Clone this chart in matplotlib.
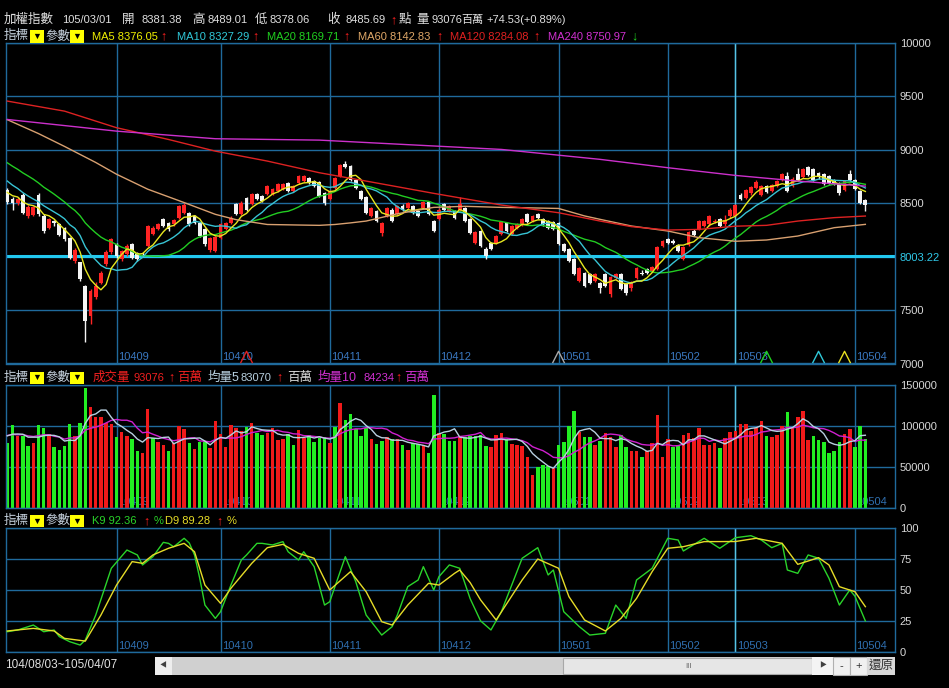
import matplotlib
matplotlib.use('Agg')
import matplotlib.pyplot as plt
import matplotlib.transforms as mtransforms
from matplotlib.patches import Rectangle
import numpy as np

W, H = 949, 688

# ---- price data (TAIEX daily, 104/08/03 ~ 105/04/07) ----
opens = [8620, 8540, 8497, 8580, 8380, 8390, 8580, 8380, 8270, 8330,
         8300, 8270, 8175, 7960, 7945, 7725, 7445, 7620, 7755, 7930,
         8040, 8115, 7975, 8020, 8115, 8035, 8030, 8100, 8210, 8255,
         8350, 8315, 8300, 8365, 8410, 8410, 8380, 8315, 8255, 8060,
         8050, 8175, 8255, 8315, 8490, 8395, 8550, 8488, 8582, 8565,
         8582, 8582, 8610, 8630, 8690, 8610, 8690, 8705, 8735, 8705,
         8700, 8590, 8535, 8645, 8755, 8870, 8850, 8720, 8610, 8560,
         8380, 8425, 8225, 8380, 8440, 8395, 8475, 8455, 8470, 8425,
         8455, 8510, 8330, 8350, 8490, 8425, 8425, 8440, 8450, 8350,
         8130, 8240, 8075, 8130, 8125, 8210, 8315, 8210, 8270, 8300,
         8395, 8330, 8395, 8350, 8330, 8320, 8315, 8115, 8070, 7975,
         7775, 7850, 7835, 7770, 7755, 7835, 7650, 7800, 7835, 7740,
         7710, 7800, 7850, 7880, 7865, 7880, 8100, 8160, 8145, 8110,
         7975, 8105, 8240, 8255, 8290, 8300, 8320, 8355, 8300, 8375,
         8381.38, 8580, 8550, 8590, 8640, 8580, 8660, 8610, 8660, 8720,
         8750, 8660, 8770, 8745, 8840, 8815, 8785, 8770, 8750, 8720,
         8690, 8620, 8775, 8720, 8610, 8530]
closes = [8510, 8505, 8540, 8410, 8465, 8460, 8395, 8240, 8350, 8310,
          8205, 8160, 7990, 8065, 7790, 7400, 7680, 7725, 7850, 8040,
          8160, 8005, 8050, 8100, 7990, 7975, 8020, 8285, 8270, 8300,
          8285, 8255, 8345, 8470, 8485, 8300, 8315, 8190, 8115, 8170,
          8180, 8300, 8315, 8365, 8395, 8505, 8440, 8582, 8535, 8520,
          8660, 8630, 8675, 8675, 8610, 8660, 8750, 8750, 8690, 8660,
          8565, 8505, 8610, 8735, 8860, 8840, 8720, 8645, 8535, 8410,
          8455, 8330, 8315, 8455, 8330, 8470, 8440, 8500, 8410, 8380,
          8510, 8395, 8240, 8440, 8440, 8470, 8365, 8490, 8330, 8225,
          8230, 8100, 8005, 8075, 8190, 8325, 8240, 8285, 8300, 8355,
          8320, 8375, 8365, 8300, 8270, 8260, 8115, 8050, 7960, 7835,
          7895, 7725, 7755, 7835, 7710, 7725, 7805, 7840, 7695, 7660,
          7765, 7895, 7835, 7850, 7905, 8085, 8145, 8130, 8125, 8050,
          8085, 8230, 8200, 8330, 8330, 8375, 8335, 8285, 8340, 8440,
          8485.69, 8540, 8625, 8650, 8700, 8660, 8600, 8670, 8705, 8770,
          8610, 8730, 8720, 8815, 8760, 8720, 8740, 8675, 8690, 8675,
          8590, 8705, 8720, 8630, 8505, 8485]
highs = [8640, 8560, 8560, 8590, 8480, 8470, 8590, 8395, 8365, 8345,
         8315, 8280, 8180, 8080, 7950, 7730, 7700, 7760, 7865, 8060,
         8175, 8130, 8065, 8115, 8125, 8045, 8045, 8295, 8285, 8310,
         8360, 8325, 8355, 8480, 8500, 8420, 8390, 8325, 8265, 8180,
         8190, 8310, 8325, 8375, 8500, 8515, 8560, 8595, 8595, 8575,
         8670, 8640, 8685, 8690, 8700, 8670, 8760, 8765, 8745, 8715,
         8710, 8600, 8620, 8745, 8870, 8890, 8860, 8730, 8620, 8570,
         8465, 8435, 8325, 8465, 8450, 8480, 8490, 8510, 8480, 8435,
         8520, 8520, 8340, 8450, 8500, 8480, 8435, 8560, 8460, 8360,
         8240, 8250, 8085, 8140, 8200, 8335, 8325, 8295, 8310, 8365,
         8405, 8385, 8405, 8360, 8340, 8330, 8325, 8125, 8080, 7985,
         7905, 7860, 7845, 7845, 7765, 7845, 7815, 7850, 7845, 7750,
         7775, 7905, 7870, 7890, 7915, 8095, 8155, 8175, 8160, 8120,
         8095, 8240, 8255, 8340, 8340, 8385, 8355, 8365, 8385, 8450,
         8489.01, 8590, 8635, 8660, 8720, 8670, 8670, 8680, 8715, 8780,
         8790, 8740, 8830, 8825, 8850, 8825, 8795, 8780, 8760, 8730,
         8700, 8715, 8810, 8730, 8620, 8540]
lows = [8490, 8440, 8480, 8400, 8360, 8375, 8380, 8225, 8255, 8290,
        8190, 8150, 7975, 7940, 7775, 7205, 7365, 7600, 7740, 7915,
        8025, 7990, 7960, 8005, 7975, 7960, 8005, 8090, 8200, 8245,
        8275, 8240, 8290, 8355, 8400, 8290, 8305, 8180, 8100, 8045,
        8040, 8165, 8245, 8305, 8385, 8385, 8430, 8480, 8525, 8510,
        8575, 8575, 8600, 8620, 8600, 8600, 8680, 8695, 8680, 8650,
        8555, 8480, 8525, 8635, 8745, 8830, 8710, 8635, 8525, 8400,
        8370, 8320, 8195, 8370, 8320, 8385, 8430, 8445, 8400, 8370,
        8445, 8385, 8230, 8340, 8430, 8415, 8355, 8430, 8320, 8215,
        8115, 8090, 7975, 8065, 8115, 8200, 8230, 8200, 8260, 8290,
        8310, 8320, 8355, 8290, 8260, 8250, 8105, 8040, 7950, 7825,
        7765, 7715, 7745, 7760, 7660, 7715, 7620, 7790, 7685, 7640,
        7680, 7790, 7825, 7840, 7855, 7870, 8090, 8120, 8115, 8040,
        7965, 8095, 8190, 8245, 8280, 8290, 8310, 8275, 8290, 8365,
        8378.06, 8530, 8540, 8580, 8630, 8570, 8590, 8600, 8650, 8710,
        8600, 8650, 8710, 8735, 8750, 8710, 8730, 8665, 8680, 8665,
        8580, 8610, 8710, 8620, 8495, 8425]
# closes before 104/08/03, only needed for the short moving averages
prior_closes = [9150, 9120, 9080, 9040, 9060, 9090, 9030, 8990, 8980, 8940,
                8890, 8850, 8800, 8780, 8740, 8660, 8600, 8640, 8590]

# long moving averages (index, value)
ma60_idx = [0, 6, 11, 17, 21, 27, 34, 40, 44, 50, 56, 60, 63, 66, 69, 75, 82, 88,
            95, 101, 106, 111, 114, 120, 127, 133, 140, 146, 152, 159, 165]
ma60_val = [9280, 9150, 9030, 8880, 8770, 8630, 8505, 8395, 8345, 8300, 8295, 8292,
            8300, 8315, 8332, 8400, 8460, 8470, 8460, 8455, 8450, 8380, 8348, 8286,
            8239, 8177, 8143, 8155, 8192, 8270, 8301]
ma120_idx = [0, 11, 21, 31, 40, 50, 60, 69, 82, 95, 106, 114, 120, 127, 133, 140,
             146, 152, 159, 165]
ma120_val = [9454, 9360, 9205, 9095, 8986, 8893, 8784, 8706, 8591, 8482, 8410, 8332,
             8280, 8248, 8254, 8284, 8292, 8332, 8364, 8379]
ma240_idx = [0, 21, 40, 60, 76, 95, 114, 127, 140, 152, 165]
ma240_val = [9282, 9173, 9102, 9089, 9049, 9002, 8909, 8831, 8759, 8706, 8659]

# ---- volume (百萬) ----
volumes = [79300, 100800, 87400, 87400, 75200, 79300, 100800, 96700, 89800, 74400,
           70300, 75200, 102000, 87400, 103700, 146300, 123200, 111000, 111000, 103700,
           102000, 85800, 92700, 87400, 83300, 69500, 67100, 119900, 84600, 80500,
           76400, 69500, 78500, 99600, 95500, 78500, 71100, 80500, 80500, 72400,
           106100, 89800, 74400, 100800, 96700, 93900, 98000, 103700, 90600, 88600,
           91500, 96700, 82500, 83300, 89800, 76400, 94700, 84600, 88600, 80500,
           84600, 85800, 79300, 98800, 128000, 106900, 114200, 95500, 87400, 96700,
           83300, 77600, 81700, 85800, 83300, 83300, 76400, 70300, 79300, 77600,
           76400, 67100, 137400, 90600, 89800, 81700, 81700, 86600, 85800, 87400,
           87400, 88600, 75200, 74400, 88600, 91500, 83300, 77600, 76400, 75200,
           61400, 39800, 50000, 52000, 50800, 48000, 76400, 80500, 99600, 118300,
           92700, 85800, 86600, 76400, 81700, 90600, 85800, 74400, 88600, 73600,
           69500, 69500, 61400, 69500, 79300, 113000, 61400, 83300, 73600, 76400,
           88600, 91500, 84600, 96700, 76400, 76400, 79300, 72400, 84600, 92700,
           93076, 102000, 102000, 93900, 96700, 106100, 87400, 86600, 88600, 99600,
           117100, 96700, 110200, 118300, 82500, 87400, 82500, 80500, 67100, 69500,
           80500, 89800, 95500, 73600, 99600, 83300]
vol_dir = ("ggrggrggrg" "gggrggrrrr" "rgrrggrrgr" "rgrrrgrggr" "rrrrrrgrgg"
           "rrrrggrrgg" "ggrgrggggg" "rggrgrgrgg" "rggrgggrgg" "gggrrrgrrr"
           "rrgggrgggg" "rggrgrrrgg" "rrgrrrrrgg" "rrrrrrrgrr" "rrrrrrgrrr"
           "grrrrggggg" "grrggg")
prior_volumes = [88000, 92000, 85000, 90000, 87000, 91000, 86000, 89000, 93000]

# ---- KD (9) ----
k_idx = [0, 2, 5, 7, 9, 10, 12, 14, 15, 17, 20, 23, 25, 26, 28, 30, 31, 32, 34, 35,
         36, 37, 38, 40, 41, 43, 45, 46, 48, 49, 51, 53, 54, 56, 57, 59, 61, 62, 65,
         67, 69, 72, 74, 75, 77, 79, 80, 82, 83, 85, 87, 89, 91, 93, 95, 97, 99, 102,
         104, 105, 107, 110, 112, 115, 117, 119, 121, 124, 126, 127, 129, 130, 134,
         137, 140, 143, 145, 147, 149, 150, 152, 154, 156, 158, 160, 162, 163, 165]
k_val = [16.2, 17.6, 21.6, 16.2, 17.6, 12.2, 8.1, 5.4, 9.5, 29.7, 67.6, 82.4, 78.4,
         70.3, 77.0, 88.6, 87.8, 85.0, 91.9, 88.0, 78.4, 59.5, 37.8, 27.0, 32.4, 54.0,
         74.3, 78.4, 87.8, 87.8, 86.5, 89.2, 81.0, 74.3, 81.0, 68.9, 37.8, 40.5, 77.0,
         56.8, 29.7, 13.5, 20.3, 29.7, 52.7, 58.1, 68.9, 50.0, 60.8, 70.3, 67.6, 43.0,
         25.0, 17.6, 32.4, 54.0, 75.7, 84.3, 62.2, 66.2, 32.4, 20.3, 13.5, 14.9, 37.8,
         27.0, 58.1, 67.6, 83.8, 91.9, 90.5, 81.6, 91.9, 83.8, 92.36, 94.0, 90.5, 84.3,
         87.8, 66.2, 63.5, 78.4, 75.7, 59.5, 37.8, 50.0, 45.0, 24.9]
d_idx = [0, 5, 9, 11, 15, 18, 21, 24, 26, 28, 31, 34, 36, 38, 41, 43, 47, 50, 53, 56,
         59, 62, 66, 69, 72, 74, 77, 81, 83, 86, 87, 89, 91, 94, 99, 102, 106, 108,
         111, 115, 118, 121, 124, 127, 130, 134, 140, 144, 149, 152, 156, 158, 160,
         163, 165]
d_val = [16.8, 18.9, 16.8, 10.8, 8.6, 29.7, 54.0, 73.0, 71.6, 78.4, 83.8, 87.8, 81.0,
         54.0, 39.2, 51.4, 71.6, 84.3, 87.0, 79.7, 75.7, 50.0, 64.9, 48.6, 24.3, 21.6,
         37.8, 55.4, 54.0, 63.5, 66.2, 56.0, 42.0, 25.7, 58.1, 75.1, 67.6, 44.6, 25.7,
         16.8, 27.0, 43.2, 64.9, 83.8, 85.1, 89.2, 89.28, 91.9, 87.8, 70.8, 76.2, 70.3,
         52.7, 48.6, 36.5]

month_idx = [21, 41, 62, 83, 106, 127, 140, 163]
month_labels = ['10409', '10410', '10411', '10412', '10501', '10502', '10503', '10504']
cursor_idx = 140
cursor_price = 8003.22
signal_idx = [46, 106, 146, 156, 161]
signal_colors = ['#e02020', '#a8a8a8', '#20d020', '#30c8d8', '#e8e020']

GRID = '#1f6a9c'
LABEL = '#d8d8d8'
MONTH = '#3a78c0'

plt.rcParams['font.family'] = ['Liberation Sans', 'Noto Sans CJK TC', 'DejaVu Sans']

fig = plt.figure(figsize=(W / 100, H / 100), dpi=100, facecolor='black')


def fx(x):
    return x / W


def fy(y):
    return 1 - y / H


def panel(top, bottom):
    left, right = 5.5, 895
    ax = fig.add_axes([fx(left), fy(bottom), (right - left) / W, (bottom - top) / H])
    ax.set_facecolor('black')
    ax.set_xlim(-0.35, 170.7)
    for s in ax.spines.values():
        s.set_color(GRID)
        s.set_linewidth(1)
    ax.set_xticks(month_idx)
    ax.tick_params(axis='x', bottom=False, labelbottom=False)
    ax.yaxis.tick_right()
    ax.tick_params(axis='y', length=0, pad=3.5, labelsize=8, labelcolor=LABEL)
    ax.grid(True, color=GRID, linewidth=1)
    ax.set_axisbelow(True)
    ax.axvline(cursor_idx, color='#56c4e4', linewidth=1, zorder=1.5)
    return ax


def month_text(ax, color, z=1):
    for i, lab in zip(month_idx, month_labels):
        ax.text(i + 0.3, 0.005, lab, transform=mtransforms.blended_transform_factory(ax.transData, ax.transAxes),
                color=color, fontsize=8, ha='left', va='bottom', zorder=z)


def sma(values, prior, n):
    full = np.array(list(prior) + list(values), dtype=float)
    out = np.convolve(full, np.ones(n) / n, mode='valid')
    return out[-len(values):]


x = np.arange(len(closes))
o = np.array(opens, dtype=float)
c = np.array(closes, dtype=float)
hi = np.array(highs, dtype=float)
lo = np.array(lows, dtype=float)

# ---------------- price panel ----------------
ax1 = panel(42.7, 363.5)
ax1.set_ylim(7000, 10000)
ax1.set_yticks([7000, 7500, 8000, 8500, 9000, 9500, 10000])
ax1.set_yticklabels(['7000', '7500', '8003.22', '8500', '9000', '9500', '10000'])
ax1.get_yticklabels()[2].set_color('#30c8e8')
ax1.axhline(cursor_price, color='#22c8f0', linewidth=2.2, zorder=1.6)

up = c >= o
ccol = np.where(up, '#ff2424', '#f4f4f4')
ax1.vlines(x, lo, hi, colors=ccol, linewidth=1, zorder=3)
body = np.maximum(np.abs(c - o), 8)
ax1.bar(x, body, bottom=np.minimum(o, c), width=0.72, color=ccol, linewidth=0, zorder=3)

ax1.plot(x, sma(closes, prior_closes, 20), color='#22cc22', lw=1, zorder=4)
ax1.plot(x, sma(closes, prior_closes, 10), color='#38c4d4', lw=1, zorder=4)
ax1.plot(x, sma(closes, prior_closes, 5), color='#e8e820', lw=1, zorder=4)
ax1.plot(ma60_idx, ma60_val, color='#d8a070', lw=1, zorder=4)
ax1.plot(ma120_idx, ma120_val, color='#dd2222', lw=1, zorder=4)
ax1.plot(ma240_idx, ma240_val, color='#cc30cc', lw=1, zorder=4)
month_text(ax1, MONTH)

tr = mtransforms.blended_transform_factory(ax1.transData, ax1.transAxes)
for i, col in zip(signal_idx, signal_colors):
    ax1.plot([i - 1.1, i, i + 1.1], [0.003, 0.038, 0.003], color=col, lw=1, transform=tr, zorder=5)

# ---------------- volume panel ----------------
ax2 = panel(384.7, 507.7)
ax2.set_ylim(0, 150000)
ax2.set_yticks([0, 50000, 100000, 150000])
ax2.set_yticklabels(['0', '50000', '100000', '150000'])
month_text(ax2, '#3070b0', z=1)
vcol = ['#f01a1a' if d == 'r' else '#22ee22' for d in vol_dir]
ax2.bar(x, volumes, width=0.68, color=vcol, linewidth=0, zorder=2)
ax2.plot(x, sma(volumes, prior_volumes, 10), color='#d020d0', lw=1, zorder=4)
ax2.plot(x, sma(volumes, prior_volumes, 5), color='#b8d0e0', lw=1, zorder=4)

# ---------------- KD panel ----------------
ax3 = panel(528.3, 651.7)
ax3.set_ylim(0, 100)
ax3.set_yticks([0, 25, 50, 75, 100])
ax3.set_yticklabels(['0', '25', '50', '75', '100'])
month_text(ax3, '#2f6fb0')
ax3.plot(k_idx, k_val, color='#2ad42a', lw=1, zorder=4)
ax3.plot(d_idx, d_val, color='#e6dc28', lw=1, zorder=4)


# ---------------- header texts ----------------
def put(xp, yp, s, color, size=8):
    fig.text(fx(xp), fy(yp), s, color=color, fontsize=size, ha='left', va='center')


def drop_box(x0, yc):
    fig.patches.append(Rectangle((fx(x0), fy(yc + 6)), 14 / W, 12 / H,
                                 transform=fig.transFigure, facecolor='#ffff00', edgecolor='none'))
    fig.text(fx(x0 + 7), fy(yc), '▼', color='black', fontsize=6.5, ha='center', va='center')


def indicator_row(yc):
    put(4, yc, '指標', '#c8d4e0', 9)
    drop_box(30, yc)
    put(45, yc, '參數', '#c8d4e0', 9)
    drop_box(70, yc)


UPR = '#ff2020'
HEAD = '#e0e0e0'
y1 = 20
put(4, y1, '加權指數', HEAD, 9)
put(62, y1, '105/03/01', HEAD)
put(122, y1, '開', HEAD, 9)
put(141, y1, '8381.38', HEAD)
put(192, y1, '高', HEAD, 9)
put(207, y1, '8489.01', HEAD)
put(255, y1, '低', HEAD, 9)
put(269, y1, '8378.06', HEAD)
put(327, y1, '收', HEAD, 9)
put(345, y1, '8485.69', HEAD)
put(390, y1, '↑', UPR, 9)
put(399, y1, '點', HEAD, 9)
put(416, y1, '量', HEAD, 9)
put(431, y1, '93076', HEAD)
put(461, y1, '百萬', HEAD, 8)
put(486, y1, '+74.53(+0.89%)', HEAD)

y2 = 36.5
indicator_row(y2)
put(92, y2, 'MA5 8376.05', '#f0f000')
put(160, y2, '↑', UPR, 9)
put(177, y2, 'MA10 8327.29', '#30c8d8')
put(252, y2, '↑', UPR, 9)
put(267, y2, 'MA20 8169.71', '#20d020')
put(343, y2, '↑', UPR, 9)
put(358, y2, 'MA60 8142.83', '#e0a868')
put(436, y2, '↑', UPR, 9)
put(450, y2, 'MA120 8284.08', '#e02020')
put(533, y2, '↑', UPR, 9)
put(548, y2, 'MA240 8750.97', '#d030d0')
put(631, y2, '↓', '#20d020', 9)

y3 = 377.7
indicator_row(y3)
put(93, y3, '成交量', '#f02020', 9)
put(134, y3, '93076', '#f02020')
put(168, y3, '↑', UPR, 9)
put(177, y3, '百萬', '#f02020', 9)
put(208, y3, '均量5', '#b8d0e0', 9)
put(240, y3, '83070', '#b8d0e0')
put(276, y3, '↑', UPR, 9)
put(287, y3, '百萬', '#d8d8d8', 9)
put(318, y3, '均量10', '#d030d0', 9)
put(364, y3, '84234', '#d030d0')
put(395, y3, '↑', UPR, 9)
put(404, y3, '百萬', '#d030d0', 9)

y4 = 521.3
indicator_row(y4)
put(92, y4, 'K9 92.36', '#2ad42a')
put(143, y4, '↑', UPR, 9)
put(154, y4, '%', '#2ad42a')
put(165, y4, 'D9 89.28', '#e6dc28')
put(216, y4, '↑', UPR, 9)
put(227, y4, '%', '#e6dc28')

# ---------------- bottom bar ----------------
put(5, 665, '104/08/03~105/04/07', HEAD, 8.5)


def rect(x0, x1, y0, y1, face, edge='none'):
    fig.patches.append(Rectangle((fx(x0), fy(y1)), (x1 - x0) / W, (y1 - y0) / H,
                                 transform=fig.transFigure, facecolor=face, edgecolor=edge, linewidth=0.8))


rect(155, 895, 657, 675, '#d0d0d0')
rect(155, 172, 657, 675, '#eeeeee')
fig.text(fx(163), fy(666), '◀', color='#404040', fontsize=5, ha='center', va='center')
rect(563, 812, 658, 674, '#e6e6e6', '#a8a8a8')
fig.text(fx(688), fy(666), 'III', color='#606060', fontsize=5.5, ha='center', va='center')
rect(812, 833, 657, 675, '#f4f4f4')
fig.text(fx(823), fy(666), '▶', color='#404040', fontsize=5, ha='center', va='center')
rect(833, 850, 657, 675, '#f0f0f0', '#b0b0b0')
fig.text(fx(841.5), fy(666), '-', color='#303030', fontsize=8, ha='center', va='center')
rect(850, 867, 657, 675, '#f0f0f0', '#b0b0b0')
fig.text(fx(858.5), fy(666), '+', color='#303030', fontsize=8, ha='center', va='center')
rect(867, 895, 657, 675, '#d8d8d8')
fig.text(fx(881), fy(666), '還原', color='#303030', fontsize=9, ha='center', va='center')

fig.savefig('out.png', dpi=100, facecolor='black')
